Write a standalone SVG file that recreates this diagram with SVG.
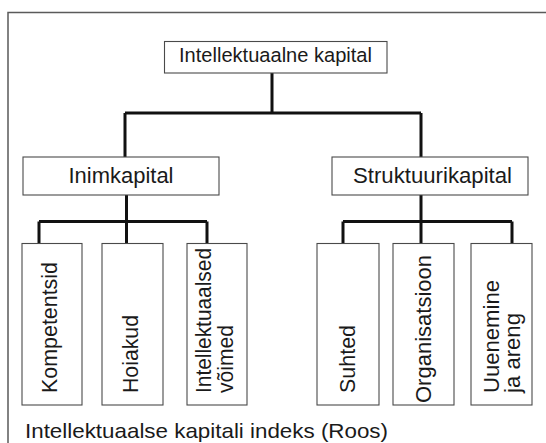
<svg xmlns="http://www.w3.org/2000/svg" width="546" height="443" viewBox="0 0 546 443">
  <style>
    .frame { fill: none; stroke: #5a5a5a; stroke-width: 1.5; }
    .box { fill: #ffffff; stroke: #4a4a4a; stroke-width: 1.1; }
    .link { fill: none; stroke: #111111; stroke-width: 3; stroke-linecap: butt; stroke-linejoin: miter; }
    text { font-family: "Liberation Sans", Arial, Helvetica, sans-serif; fill: #1a1a1a; }
    .lbl { font-size: 22px; text-anchor: middle; }
    .vt { font-size: 21.5px; }
  </style>

  <!-- outer frame, open to the right and bottom -->
  <rect class="frame" x="8" y="12.5" width="600" height="500"/>

  <!-- tree connectors -->
  <g id="connectors">
    <path class="link" d="M272 73 V113 M125 113 H421 M125 113 V157 M421 113 V157"/>
    <path class="link" d="M126.5 195 V221.5 M39 221.5 H207 M39 221.5 V243.5 M126.5 221.5 V243.5 M207 221.5 V243.5"/>
    <path class="link" d="M421 195 V221.5 M343 221.5 H512 M343 221.5 V243.5 M421 221.5 V243.5 M512 221.5 V243.5"/>
  </g>

  <g id="root">
    <rect class="box" x="164.5" y="41.5" width="222.5" height="31.5"/>
    <text class="lbl" x="275.5" y="62" style="font-size:20.5px" textLength="193" lengthAdjust="spacingAndGlyphs">Intellektuaalne kapital</text>
  </g>

  <g id="inimkapital">
    <rect class="box" x="23" y="157" width="196" height="38"/>
    <text class="lbl" x="121" y="183.3" textLength="105" lengthAdjust="spacingAndGlyphs">Inimkapital</text>
  </g>

  <g id="struktuurikapital">
    <rect class="box" x="332" y="157" width="196" height="38"/>
    <text class="lbl" x="432.5" y="183.3" textLength="159" lengthAdjust="spacingAndGlyphs">Struktuurikapital</text>
  </g>

  <g id="kompetentsid">
    <rect class="box" x="22" y="243.5" width="60" height="161.5"/>
    <text class="vt" transform="translate(57 393) rotate(-90)" textLength="131" lengthAdjust="spacingAndGlyphs">Kompetentsid</text>
  </g>

  <g id="hoiakud">
    <rect class="box" x="102" y="243.5" width="61" height="161.5"/>
    <text class="vt" transform="translate(138 393) rotate(-90)" textLength="78" lengthAdjust="spacingAndGlyphs">Hoiakud</text>
  </g>

  <g id="intellektuaalsed-voimed">
    <rect class="box" x="187" y="243.5" width="60" height="161.5"/>
    <text class="vt" transform="translate(211 393) rotate(-90)" textLength="145" lengthAdjust="spacingAndGlyphs">Intellektuaalsed</text>
    <text class="vt" transform="translate(233 393) rotate(-90)" textLength="68" lengthAdjust="spacingAndGlyphs">võimed</text>
  </g>

  <g id="suhted">
    <rect class="box" x="317" y="243.5" width="62" height="161.5"/>
    <text class="vt" transform="translate(355 393) rotate(-90)" textLength="68" lengthAdjust="spacingAndGlyphs">Suhted</text>
  </g>

  <g id="organisatsioon">
    <rect class="box" x="393" y="243.5" width="61" height="161.5"/>
    <text class="vt" transform="translate(431 403) rotate(-90)" textLength="148" lengthAdjust="spacingAndGlyphs">Organisatsioon</text>
  </g>

  <g id="uuenemine-ja-areng">
    <rect class="box" x="471" y="243.5" width="61" height="161.5"/>
    <text class="vt" transform="translate(499 393) rotate(-90)" textLength="113" lengthAdjust="spacingAndGlyphs">Uuenemine</text>
    <text class="vt" transform="translate(519.5 393) rotate(-90)" textLength="80" lengthAdjust="spacingAndGlyphs">ja areng</text>
  </g>

  <text x="25" y="437.5" style="font-size:21px" textLength="363" lengthAdjust="spacingAndGlyphs">Intellektuaalse kapitali indeks (Roos)</text>
</svg>
